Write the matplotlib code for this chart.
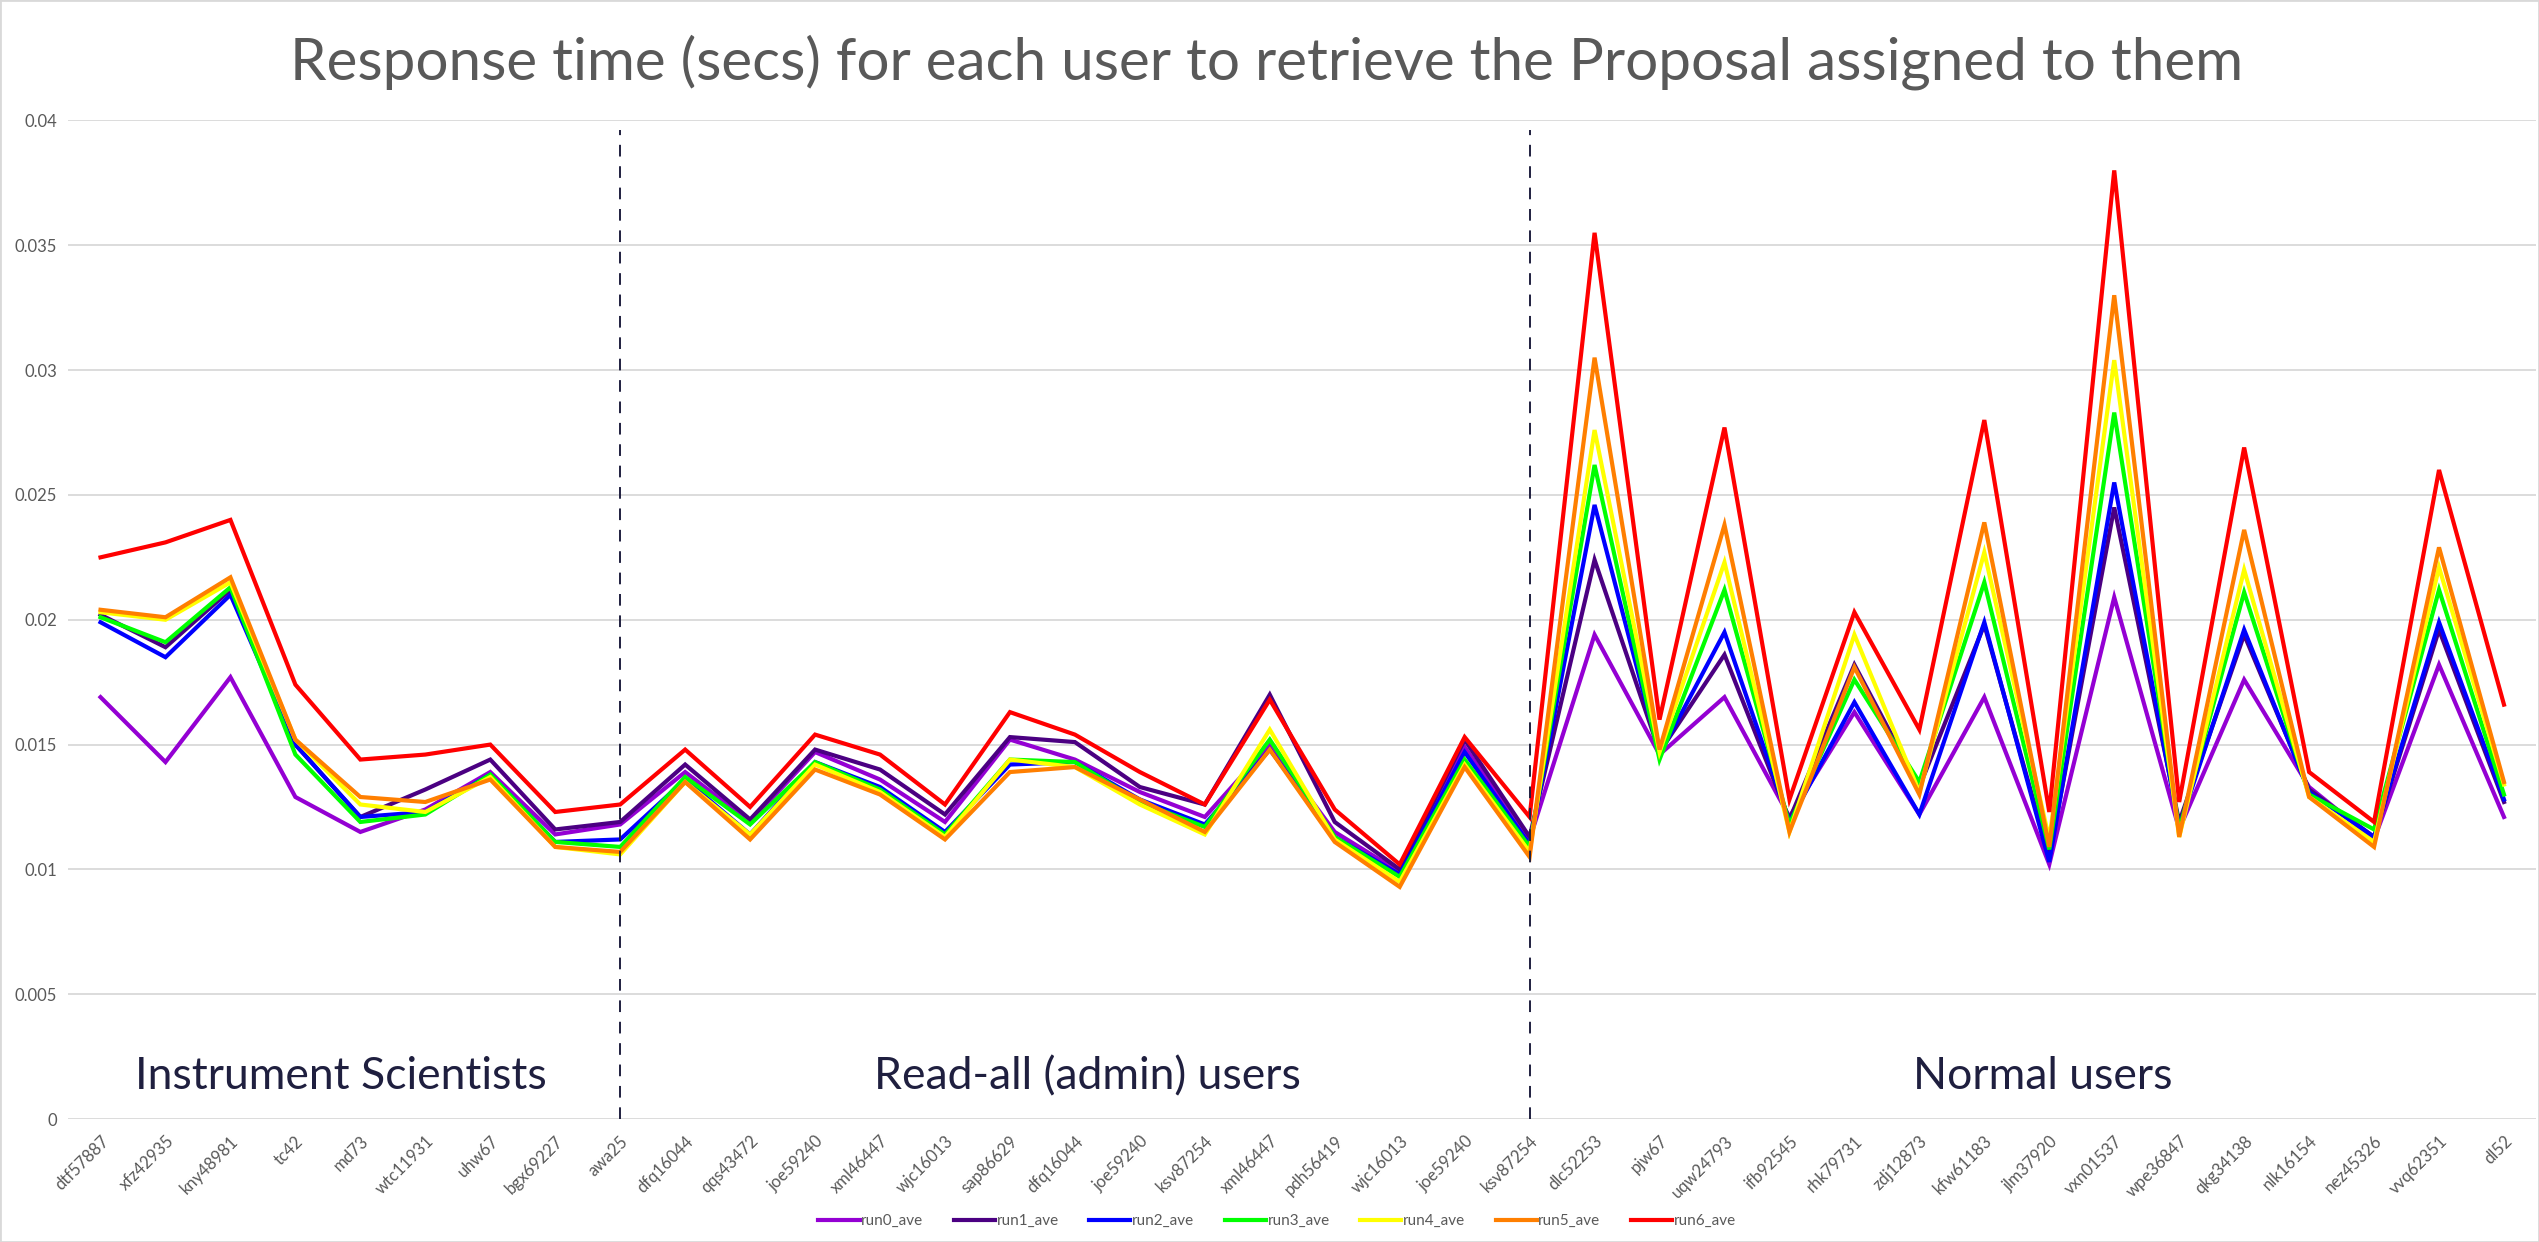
import numpy as np
import matplotlib
matplotlib.use("Agg")
import matplotlib.pyplot as plt
from matplotlib.patches import Rectangle

plt.rcParams['font.family'] = ['Lato', 'DejaVu Sans']

users = ["dtf57887", "xfz42935", "kny48981", "tc42", "md73", "wtc11931", "uhw67",
         "bgx69227", "awa25", "dfq16044", "qqs43472", "joe59240", "xml46447",
         "wjc16013", "sap86629", "dfq16044", "joe59240", "ksv87254", "xml46447",
         "pdh56419", "wjc16013", "joe59240", "ksv87254", "dlc52253", "pjw67",
         "uqw24793", "ifb92545", "rhk79731", "zdj12873", "kfw61183", "jlm37920",
         "vxn01537", "wpe36847", "qkg34138", "nlk16154", "nez45326", "vvq62351", "dl52"]

run0 = [0.0169, 0.0143, 0.0177, 0.0129, 0.0115, 0.0124, 0.0139, 0.0114, 0.0118, 0.0139,
        0.0119, 0.0147, 0.0136, 0.0119, 0.0152, 0.0144, 0.0131, 0.0121, 0.0150, 0.0115,
        0.0099, 0.0149, 0.0112, 0.0194, 0.0146, 0.0169, 0.0121, 0.0163, 0.0122, 0.0169,
        0.0102, 0.0209, 0.0116, 0.0176, 0.0133, 0.0112, 0.0182, 0.0121]
run1 = [0.0202, 0.0189, 0.0212, 0.0150, 0.0121, 0.0132, 0.0144, 0.0116, 0.0119, 0.0142,
        0.0120, 0.0148, 0.0140, 0.0122, 0.0153, 0.0151, 0.0133, 0.0126, 0.0170, 0.0119,
        0.0100, 0.0152, 0.0113, 0.0224, 0.0147, 0.0186, 0.0120, 0.0182, 0.0133, 0.0198,
        0.0105, 0.0245, 0.0119, 0.0194, 0.0132, 0.0113, 0.0196, 0.0127]
run2 = [0.0199, 0.0185, 0.0210, 0.0150, 0.0121, 0.0123, 0.0138, 0.0111, 0.0112, 0.0136,
        0.0114, 0.0143, 0.0133, 0.0115, 0.0142, 0.0143, 0.0128, 0.0118, 0.0148, 0.0113,
        0.0098, 0.0147, 0.0110, 0.0246, 0.0146, 0.0195, 0.0119, 0.0167, 0.0122, 0.0199,
        0.0103, 0.0255, 0.0117, 0.0196, 0.0131, 0.0113, 0.0199, 0.0128]
run3 = [0.0201, 0.0191, 0.0213, 0.0146, 0.0119, 0.0122, 0.0138, 0.0111, 0.0109, 0.0137,
        0.0118, 0.0143, 0.0132, 0.0114, 0.0144, 0.0143, 0.0127, 0.0117, 0.0152, 0.0113,
        0.0097, 0.0144, 0.0109, 0.0262, 0.0144, 0.0212, 0.0118, 0.0176, 0.0135, 0.0215,
        0.0108, 0.0283, 0.0116, 0.0211, 0.0130, 0.0116, 0.0212, 0.0130]
run4 = [0.0203, 0.0200, 0.0215, 0.0152, 0.0126, 0.0123, 0.0137, 0.0109, 0.0106, 0.0135,
        0.0114, 0.0142, 0.0131, 0.0113, 0.0144, 0.0141, 0.0126, 0.0114, 0.0156, 0.0112,
        0.0095, 0.0142, 0.0107, 0.0276, 0.0147, 0.0223, 0.0115, 0.0194, 0.0131, 0.0227,
        0.0112, 0.0304, 0.0113, 0.0220, 0.0129, 0.0111, 0.0221, 0.0134]
run5 = [0.0204, 0.0201, 0.0217, 0.0152, 0.0129, 0.0127, 0.0136, 0.0109, 0.0107, 0.0135,
        0.0112, 0.0140, 0.0130, 0.0112, 0.0139, 0.0141, 0.0128, 0.0115, 0.0148, 0.0111,
        0.0093, 0.0141, 0.0105, 0.0305, 0.0148, 0.0238, 0.0115, 0.0181, 0.0130, 0.0239,
        0.0109, 0.0330, 0.0113, 0.0236, 0.0129, 0.0109, 0.0229, 0.0135]
run6 = [0.0225, 0.0231, 0.0240, 0.0174, 0.0144, 0.0146, 0.0150, 0.0123, 0.0126, 0.0148,
        0.0125, 0.0154, 0.0146, 0.0126, 0.0163, 0.0154, 0.0139, 0.0126, 0.0168, 0.0124,
        0.0102, 0.0153, 0.0121, 0.0355, 0.0160, 0.0277, 0.0128, 0.0203, 0.0156, 0.0280,
        0.0123, 0.0380, 0.0127, 0.0269, 0.0139, 0.0119, 0.0260, 0.0166]

series_names = ["run0_ave", "run1_ave", "run2_ave", "run3_ave", "run4_ave", "run5_ave", "run6_ave"]
colors = ["#9400D3", "#4B0082", "#0000FF", "#00FF00", "#FFFF00", "#FF7F00", "#FF0000"]

group_names = ["Instrument Scientists", "Read-all (admin) users", "Normal users"]
group_breaks = [8, 22]
group_centres = [3.7, 15.2, 29.9]

yticks = [0, 0.005, 0.01, 0.015, 0.02, 0.025, 0.03, 0.035, 0.04]
ytick_labels = ["0", "0.005", "0.01", "0.015", "0.02", "0.025", "0.03", "0.035", "0.04"]

fig = plt.figure(figsize=(25.39, 12.42), dpi=100)
ax = fig.add_axes([0.0268, 0.099, 0.9722, 0.804])

x = np.arange(len(users))
for vals, name, c in zip([run0, run1, run2, run3, run4, run5, run6], series_names, colors):
    ax.plot(x, vals, color=c, lw=3.0, label=name, solid_joinstyle='miter')

# dashed separators between the user groups
for b in group_breaks:
    ax.plot([b, b], [0, 0.0396], color="#1F1F3F", lw=1.4, ls=(0, (6, 5)))

for name, cx in zip(group_names, group_centres):
    ax.text(cx, 0.0017, name, ha='center', va='center', fontsize=32, color="#1F1F3F")

ax.set_xlim(-0.5, len(users) - 0.5)
ax.set_ylim(0, 0.04)
ax.set_yticks(yticks)
ax.set_yticklabels(ytick_labels)
ax.set_xticks(x)
ax.set_xticklabels(users, rotation=45, ha='right', rotation_mode='anchor')
ax.tick_params(axis='both', length=0, labelsize=12, labelcolor="#595959")
ax.tick_params(axis='x', pad=10)
ax.tick_params(axis='y', pad=8)
ax.grid(axis='y', color="#D9D9D9", lw=1.3)
ax.set_axisbelow(True)
for s in ax.spines.values():
    s.set_visible(False)

fig.text(0.499, 0.95, "Response time (secs) for each user to retrieve the Proposal assigned to them",
         ha='center', va='center', fontsize=42, color="#595959")

fig.legend(loc='lower center', bbox_to_anchor=(0.503, 0.0), ncol=7, frameon=False,
           fontsize=11, labelcolor="#595959", handlelength=2.7, handletextpad=0.1,
           columnspacing=2.0)

fig.patches.append(Rectangle((0, 0), 1, 1, transform=fig.transFigure, fill=False,
                             edgecolor="#D9D9D9", lw=2))

fig.savefig("out.png", dpi=100)
